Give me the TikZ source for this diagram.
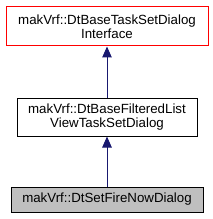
\documentclass[tikz,border=0pt]{standalone}
\usepackage{fontspec}
\setmainfont{Liberation Sans}
\usetikzlibrary{arrows.meta}
\definecolor{edgeblue}{HTML}{191970}
\definecolor{boxgray}{HTML}{BFBFBF}
\tikzset{
  cls/.style={draw=black, line width=1pt, align=center, inner sep=0pt,
    font=\fontsize{13.3}{14.5}\selectfont},
  inh/.style={draw=edgeblue, line width=1pt, -{Triangle[length=11pt,width=9.5pt]}, color=edgeblue}
}
\begin{document}
\begin{tikzpicture}[x=1pt,y=-1pt]
\useasboundingbox (0,0) rectangle (213,219);
\node[cls, draw=red, minimum width=202pt, minimum height=39pt] (a) at (107,26.5) {makVrf::DtBaseTaskSetDialog\\Interface};
\node[cls, minimum width=180pt, minimum height=38pt] (b) at (107,117) {makVrf::DtBaseFilteredList\\ViewTaskSetDialog};
\node[cls, fill=boxgray, minimum width=192pt, minimum height=25pt] (c) at (107,199.5) {makVrf::DtSetFireNowDialog};
\draw[inh] (b) -- (a);
\draw[inh] (c) -- (b);
\end{tikzpicture}
\end{document}
